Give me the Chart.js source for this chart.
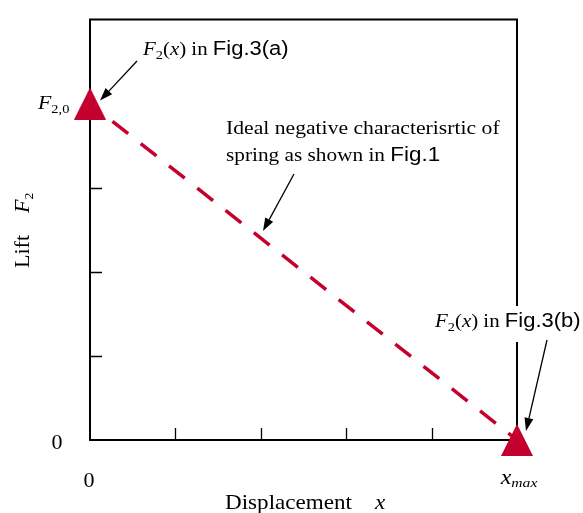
<!DOCTYPE html>
<html>
<head>
<meta charset="utf-8">
<script src="https://cdn.jsdelivr.net/npm/chart.js@4"></script>
<style>
  html, body { margin: 0; padding: 0; background: #fff; }
  #wrap { width: 583px; height: 513px; position: relative; }
</style>
</head>
<body>
<div id="wrap"><canvas id="c"></canvas></div>
<script>
// ---- data ----
const displacement = [0, 5];          // x: 0 .. x_max
const lift = [4, 0];                  // y: F2,0 .. 0
const xTicks = [1, 2, 3, 4];
const yTicks = [1, 2, 3];
const xRange = [0, 5];
const yRange = [0, 5];

const RED = '#c4002f';
const SERIF = '"Liberation Serif", "Times New Roman", serif';
const SANS = '"Liberation Sans", Arial, sans-serif';

// triangle marker image
function triImg(w, h) {
  const c = document.createElement('canvas');
  c.width = w; c.height = h;
  const g = c.getContext('2d');
  g.fillStyle = RED;
  g.beginPath();
  g.moveTo(w / 2, 0);
  g.lineTo(w, h);
  g.lineTo(0, h);
  g.closePath();
  g.fill();
  return c;
}
const tri = triImg(32, 32);

function rich(ctx, x, y, segs, align, sx) {
  sx = sx || 1.1;
  let total = 0;
  segs.forEach(s => { ctx.font = s.font; total += ctx.measureText(s.t).width * sx; });
  let cx = align === 'center' ? x - total / 2 : (align === 'right' ? x - total : x);
  ctx.textAlign = 'left';
  ctx.textBaseline = 'alphabetic';
  segs.forEach(s => {
    ctx.font = s.font;
    ctx.save();
    ctx.translate(cx, y + (s.dy || 0));
    ctx.scale(sx, 1);
    ctx.fillText(s.t, 0, 0);
    ctx.restore();
    cx += ctx.measureText(s.t).width * sx;
  });
  return total;
}

function arrow(ctx, x1, y1, x2, y2) {
  const ang = Math.atan2(y2 - y1, x2 - x1);
  const L = 13, W = 4.5;
  const bx = x2 - Math.cos(ang) * L, by = y2 - Math.sin(ang) * L;
  ctx.strokeStyle = '#000';
  ctx.lineWidth = 1.3;
  ctx.beginPath();
  ctx.moveTo(x1, y1);
  ctx.lineTo(bx, by);
  ctx.stroke();
  ctx.fillStyle = '#000';
  ctx.beginPath();
  ctx.moveTo(x2, y2);
  ctx.lineTo(bx + Math.sin(ang) * W, by - Math.cos(ang) * W);
  ctx.lineTo(bx - Math.sin(ang) * W, by + Math.cos(ang) * W);
  ctx.closePath();
  ctx.fill();
}

const framePlugin = {
  id: 'frame',
  beforeDatasetsDraw(chart) {
    const { ctx, chartArea: a, scales: { x, y } } = chart;
    ctx.save();
    ctx.strokeStyle = '#000';
    ctx.lineWidth = 2;
    ctx.beginPath();
    ctx.rect(a.left, a.top, a.right - a.left, a.bottom - a.top);
    ctx.stroke();
    ctx.lineWidth = 1.3;
    ctx.beginPath();
    xTicks.forEach(v => {
      const px = Math.round(x.getPixelForValue(v)) + 0.5;
      ctx.moveTo(px, a.bottom);
      ctx.lineTo(px, a.bottom - 12);
    });
    yTicks.forEach(v => {
      const py = Math.round(y.getPixelForValue(v)) + 0.5;
      ctx.moveTo(a.left, py);
      ctx.lineTo(a.left + 12, py);
    });
    ctx.stroke();
    ctx.restore();
  },
  afterDraw(chart) {
    const { ctx, chartArea: a, scales: { x, y } } = chart;
    ctx.save();
    ctx.fillStyle = '#000';
    const x0 = x.getPixelForValue(displacement[0]);
    const xM = x.getPixelForValue(displacement[1]);
    const y0 = y.getPixelForValue(lift[1]);
    const yF = y.getPixelForValue(lift[0]);

    // tick labels
    rich(ctx, 57, y0 + 9, [{ t: '0', font: '20px ' + SERIF }], 'center');
    rich(ctx, x0 - 1, 487, [{ t: '0', font: '20px ' + SERIF }], 'center');
    rich(ctx, 38, yF + 5, [
      { t: 'F', font: 'italic 19px ' + SERIF },
      { t: '2,0', font: '12.5px ' + SERIF, dy: 4 }
    ], 'left', 1.15);
    rich(ctx, xM + 2, 484, [
      { t: 'x', font: 'italic 20px ' + SERIF },
      { t: 'max', font: 'italic 13px ' + SERIF, dy: 3 }
    ], 'center', 1.2);

    // axis titles
    rich(ctx, 225, 509, [
      { t: 'Displacement    ', font: '21px ' + SERIF },
      { t: 'x', font: 'italic 21px ' + SERIF }
    ], 'left');
    ctx.save();
    ctx.translate(29, 268);
    ctx.rotate(-Math.PI / 2);
    rich(ctx, 0, 0, [
      { t: 'Lift    ', font: '21px ' + SERIF },
      { t: 'F', font: 'italic 21px ' + SERIF },
      { t: '2', font: '13px ' + SERIF, dy: 4 }
    ], 'left', 1.05);
    ctx.restore();

    // annotation (a)
    ctx.fillStyle = '#000';
    rich(ctx, 143, 55, [
      { t: 'F', font: 'italic 19px ' + SERIF },
      { t: '2', font: '13px ' + SERIF, dy: 4 },
      { t: '(', font: '19px ' + SERIF },
      { t: 'x', font: 'italic 19px ' + SERIF },
      { t: ') in ', font: '19px ' + SERIF },
      { t: 'Fig.3(a)', font: '20px ' + SANS }
    ], 'left');
    arrow(ctx, 137, 61, x0 + 10, yF - 3);

    // annotation middle
    ctx.fillStyle = '#000';
    rich(ctx, 226, 134, [{ t: 'Ideal negative characterisrtic of', font: '19px ' + SERIF }], 'left', 1.14);
    rich(ctx, 226, 161, [
      { t: 'spring as shown in ', font: '19px ' + SERIF },
      { t: 'Fig.1', font: '20px ' + SANS }
    ], 'left', 1.12);
    arrow(ctx, 294, 174, 263, 231);

    // annotation (b) with white background
    ctx.fillStyle = '#fff';
    ctx.fillRect(432, 306, 151, 36);
    ctx.fillStyle = '#000';
    rich(ctx, 435, 327, [
      { t: 'F', font: 'italic 19px ' + SERIF },
      { t: '2', font: '13px ' + SERIF, dy: 4 },
      { t: '(', font: '19px ' + SERIF },
      { t: 'x', font: 'italic 19px ' + SERIF },
      { t: ') in ', font: '19px ' + SERIF },
      { t: 'Fig.3(b)', font: '20px ' + SANS }
    ], 'left');
    arrow(ctx, 547, 340, xM + 9, y0 - 9);
    ctx.restore();
  }
};

new Chart(document.getElementById('c'), {
  type: 'scatter',
  data: {
    datasets: [{
      data: displacement.map((v, i) => ({ x: v, y: lift[i] })),
      showLine: true,
      borderColor: RED,
      borderWidth: 3.5,
      borderDash: [20, 16],
      borderDashOffset: 7.4,
      borderCapStyle: 'butt',
      pointStyle: tri,
      pointRadius: 16,
      pointHoverRadius: 16,
      backgroundColor: RED,
      clip: false
    }]
  },
  options: {
    responsive: true,
    maintainAspectRatio: false,
    devicePixelRatio: 1,
    animation: false,
    events: [],
    layout: { padding: { left: 90, right: 66, top: 14, bottom: 73 } },
    plugins: { legend: { display: false }, tooltip: { enabled: false } },
    scales: {
      x: { type: 'linear', display: false, min: xRange[0], max: xRange[1] },
      y: { type: 'linear', display: false, min: yRange[0], max: yRange[1] }
    }
  },
  plugins: [framePlugin]
});
</script>
</body>
</html>
